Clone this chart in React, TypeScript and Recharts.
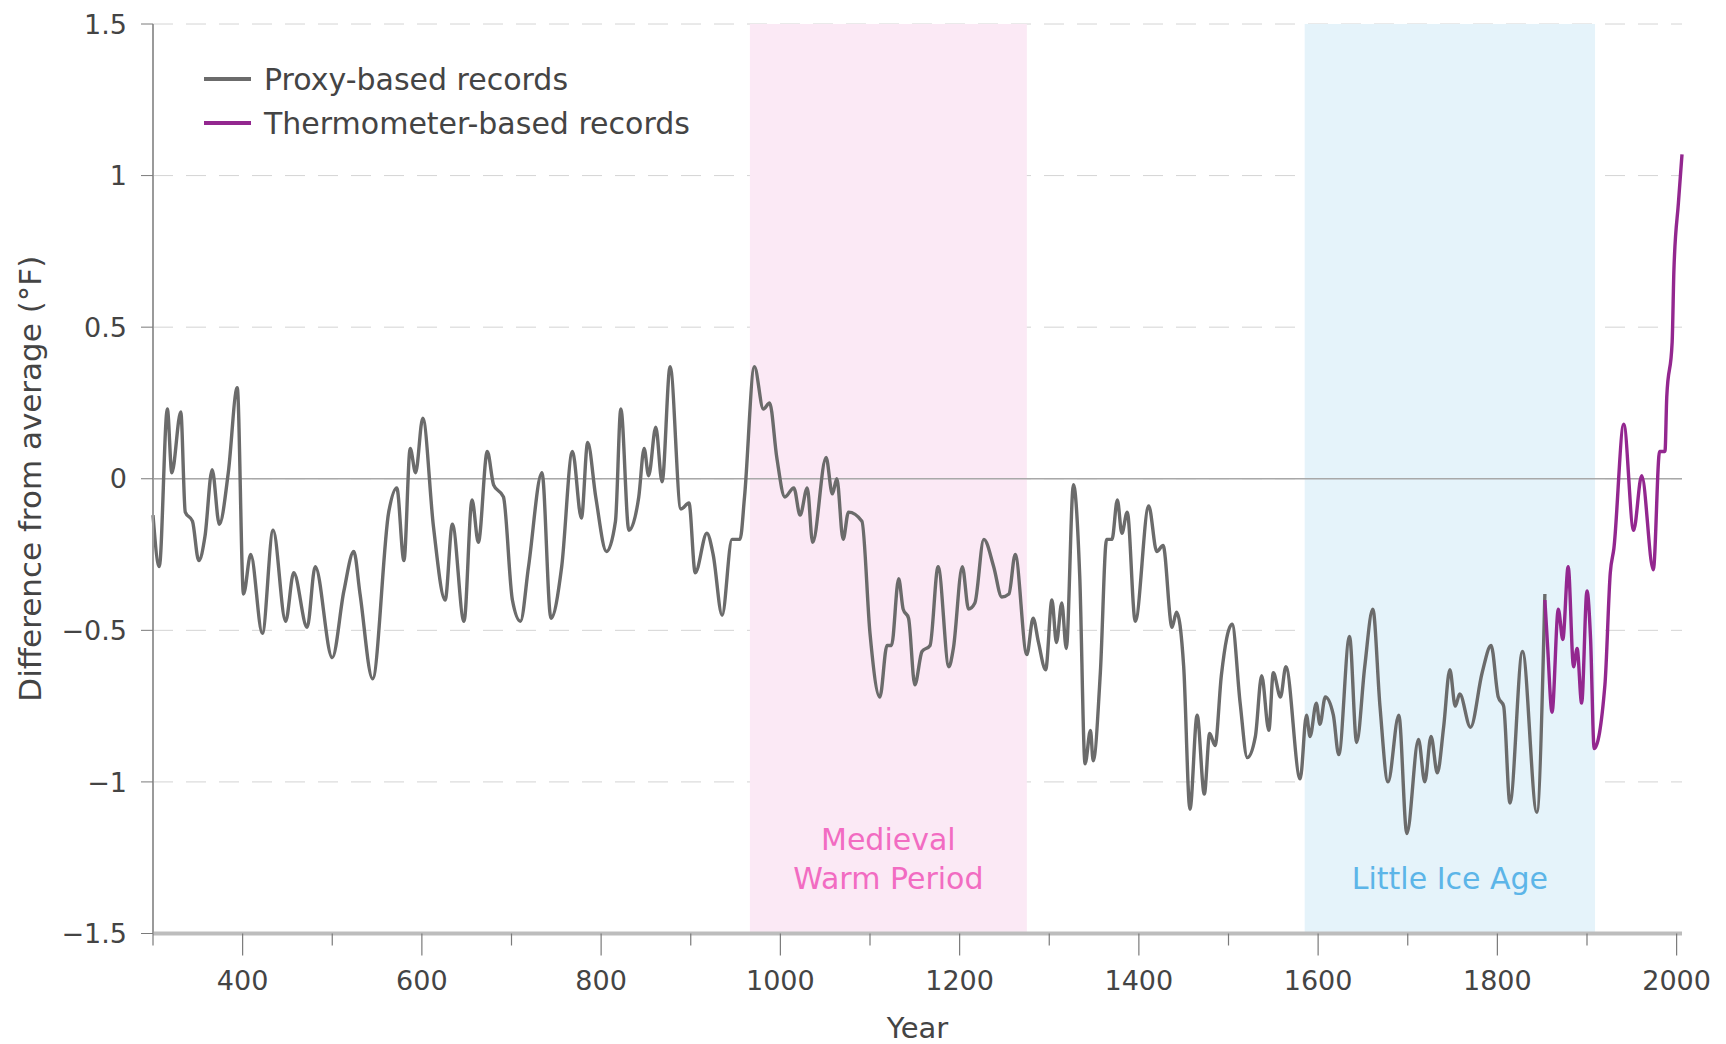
import {
  CartesianGrid,
  Line,
  LineChart,
  ReferenceArea,
  ReferenceLine,
  XAxis,
  YAxis,
} from 'recharts';

// proxy reconstruction
const proxyYears = [
  300, 307, 316, 321, 331, 336, 344, 351, 358, 366, 374, 384, 394, 401, 409, 422, 434, 448, 457, 472,
  481, 500, 513, 524, 531, 545, 563, 572, 580, 587, 593, 601, 613, 626, 634, 647, 656, 663, 673, 680,
  691, 701, 710, 719, 734, 744, 756, 768, 778, 785, 794, 806, 816, 822, 831, 842, 848, 853, 861, 868,
  877, 889, 898, 905, 918, 925, 935, 946, 955, 960, 971, 981, 988, 996, 1005, 1015, 1022, 1030, 1036,
  1051, 1058, 1063, 1070, 1076, 1091, 1100, 1111, 1119, 1124, 1132, 1137, 1143, 1150, 1158, 1167, 1176,
  1188, 1193, 1203, 1210, 1217, 1227, 1238, 1247, 1255, 1262, 1275, 1282, 1288, 1296, 1303, 1308, 1314,
  1319, 1327, 1334, 1340, 1346, 1349, 1357, 1364, 1370, 1376, 1381, 1387, 1396, 1411, 1420, 1427, 1437,
  1442, 1450, 1457, 1465, 1473, 1479, 1485, 1492, 1504, 1513, 1521, 1530, 1537, 1545, 1550, 1558, 1564,
  1580, 1587, 1591, 1598, 1602, 1608, 1617, 1623, 1635, 1643, 1652, 1661, 1669, 1678, 1690, 1699, 1712,
  1719, 1726, 1733, 1740, 1747, 1753, 1758, 1770, 1783, 1793, 1801, 1807, 1814, 1828, 1844, 1853,
];
const proxyValues = [
  -0.12, -0.29, 0.23, 0.02, 0.22, -0.11, -0.14, -0.27, -0.19, 0.03, -0.15, 0.02, 0.3, -0.38, -0.25, -0.51, -0.17, -0.47, -0.31, -0.49,
  -0.29, -0.59, -0.37, -0.24, -0.38, -0.66, -0.11, -0.03, -0.27, 0.1, 0.02, 0.2, -0.16, -0.4, -0.15, -0.47, -0.07, -0.21, 0.09, -0.02,
  -0.06, -0.4, -0.47, -0.29, 0.02, -0.46, -0.29, 0.09, -0.13, 0.12, -0.06, -0.24, -0.14, 0.23, -0.17, -0.06, 0.1, 0.01, 0.17, -0.01,
  0.37, -0.1, -0.08, -0.31, -0.18, -0.25, -0.45, -0.2, -0.2, -0.06, 0.37, 0.23, 0.25, 0.07, -0.06, -0.03, -0.12, -0.03, -0.21,
  0.07, -0.05, 0.0, -0.2, -0.11, -0.14, -0.51, -0.72, -0.55, -0.55, -0.33, -0.43, -0.46, -0.68, -0.57, -0.55, -0.29,
  -0.62, -0.56, -0.29, -0.43, -0.41, -0.2, -0.29, -0.39, -0.38, -0.25, -0.58, -0.46, -0.54, -0.63, -0.4, -0.54, -0.41,
  -0.56, -0.02, -0.32, -0.94, -0.83, -0.93, -0.64, -0.2, -0.2, -0.07, -0.18, -0.11, -0.47, -0.09, -0.24, -0.22, -0.49,
  -0.44, -0.62, -1.09, -0.78, -1.04, -0.84, -0.88, -0.65, -0.48, -0.74, -0.92, -0.85, -0.65, -0.83, -0.64, -0.72, -0.62,
  -0.99, -0.78, -0.85, -0.74, -0.81, -0.72, -0.78, -0.91, -0.52, -0.87, -0.62, -0.43, -0.75, -1.0, -0.78, -1.17, -0.86,
  -1.0, -0.85, -0.97, -0.82, -0.63, -0.75, -0.71, -0.82, -0.64, -0.55, -0.72, -0.75, -1.07, -0.57, -1.1, -0.38,
];

// instrumental record
const thermoYears = [
  1853, 1856, 1861, 1868, 1873, 1879, 1885, 1889, 1894, 1900, 1904, 1908, 1920, 1926, 1930, 1941, 1952,
  1961, 1974, 1981, 1987, 1989, 1995, 1997, 2002, 2006,
];
const thermoValues = [
  -0.4, -0.55, -0.77, -0.43, -0.53, -0.29, -0.62, -0.56, -0.74, -0.37, -0.53, -0.89, -0.68, -0.31, -0.23, 0.18, -0.17,
  0.01, -0.3, 0.09, 0.09, 0.27, 0.45, 0.69, 0.91, 1.07,
];

const xTicks = [300, 400, 500, 600, 700, 800, 900, 1000, 1100, 1200, 1300, 1400, 1500, 1600, 1700, 1800, 1900, 2000];
const yTicks = [-1.5, -1, -0.5, 0, 0.5, 1, 1.5];

const medievalYears = [966, 1275];
const iceAgeYears = [1585, 1909];

const rows = new Map<number, { year: number; proxy?: number; thermo?: number }>();
proxyYears.forEach((y, i) => rows.set(y, { ...(rows.get(y) || { year: y }), proxy: proxyValues[i] }));
thermoYears.forEach((y, i) => rows.set(y, { ...(rows.get(y) || { year: y }), thermo: thermoValues[i] }));
const data = [...rows.values()].sort((a, b) => a.year - b.year);

const FONT = '"DejaVu Sans", Verdana, sans-serif';
const GRAY = '#6b6b6b';
const PURPLE = '#93278f';

function XTick({ x, y, payload }: any) {
  const major = payload.value % 200 === 0;
  return (
    <g>
      <line x1={x} x2={x} y1={y} y2={y + (major ? 22 : 12)} stroke="#7a7a7a" strokeWidth={1.2} />
      {major && (
        <text x={x} y={y + 47} textAnchor="middle" dominantBaseline="central" fontSize={27} fontFamily={FONT} fill="#444">
          {payload.value}
        </text>
      )}
    </g>
  );
}

const fmtY = (v: number) => (v < 0 ? '\u2212' + String(Math.abs(v)) : String(v));

function PeriodLabel({ viewBox, lines, color }: any) {
  const cx = viewBox.x + viewBox.width / 2;
  const bottom = viewBox.y + viewBox.height;
  return (
    <g>
      {lines.map((t: string, i: number) => (
        <text
          key={t}
          x={cx}
          y={bottom - 55 - (lines.length - 1 - i) * 39}
          textAnchor="middle"
          dominantBaseline="central"
          fontSize={30}
          fontFamily={FONT}
          fill={color}
        >
          {t}
        </text>
      ))}
    </g>
  );
}

const legendItems = [
  { name: 'Proxy-based records', color: GRAY },
  { name: 'Thermometer-based records', color: PURPLE },
];

export default function App() {
  return (
    <div style={{ position: 'absolute', left: 0, top: 0, width: 1726, height: 1044, background: '#fff' }}>
      <LineChart width={1726} height={1044} data={data} margin={{ top: 24, right: 44, left: 0, bottom: 0 }}>
        <ReferenceArea x1={medievalYears[0]} x2={medievalYears[1]} y1={-1.5} y2={1.5} fill="#fbe9f5" fillOpacity={1} stroke="none"
          label={<PeriodLabel lines={['Medieval', 'Warm Period']} color="#f26cc2" />} />
        <ReferenceArea x1={iceAgeYears[0]} x2={iceAgeYears[1]} y1={-1.5} y2={1.5} fill="#e5f3fa" fillOpacity={1} stroke="none"
          label={<PeriodLabel lines={['Little Ice Age']} color="#5cb5e8" />} />
        <CartesianGrid vertical={false} stroke="#d4d4d4" strokeDasharray="20 13" />
        <ReferenceLine y={0} stroke="#a8a8a8" strokeWidth={1.5} segment={[{ x: 300, y: 0 }, { x: 2000, y: 0 }]} />
        <XAxis
          dataKey="year"
          type="number"
          domain={[300, 2006]}
          ticks={xTicks}
          interval={0}
          height={110.5}
          tickSize={0}
          tickMargin={0}
          tick={<XTick />}
          axisLine={{ stroke: '#bdbdbd', strokeWidth: 4 }}
          label={{ value: 'Year', position: 'insideBottom', offset: 6, fontSize: 29, fontFamily: FONT, fill: '#444' }}
        />
        <YAxis
          type="number"
          domain={[-1.5, 1.5]}
          ticks={yTicks}
          interval={0}
          width={153}
          tickSize={12}
          tickMargin={14}
          tickFormatter={fmtY}
          tick={{ fontSize: 27, fontFamily: FONT, fill: '#444' }}
          tickLine={{ stroke: '#7a7a7a' }}
          axisLine={{ stroke: '#9a9a9a', strokeWidth: 2 }}
          label={{
            value: 'Difference from average (\u00b0F)',
            angle: -90,
            position: 'insideLeft',
            offset: 30,
            style: { textAnchor: 'middle' },
            fontSize: 31,
            fontFamily: FONT,
            fill: '#444',
          }}
        />
        <Line type="monotone" dataKey="proxy" stroke={GRAY} strokeWidth={3.4} dot={false} connectNulls isAnimationActive={false} />
        <Line type="monotone" dataKey="thermo" stroke={PURPLE} strokeWidth={3.4} dot={false} connectNulls isAnimationActive={false} />
      </LineChart>
      <div style={{ position: 'absolute', left: 204, top: 57, fontFamily: FONT, fontSize: 30, color: '#444' }}>
        {legendItems.map((it) => (
          <div key={it.name} style={{ display: 'flex', alignItems: 'center', height: 44, whiteSpace: 'nowrap' }}>
            <span style={{ width: 47, height: 4, background: it.color, marginRight: 13 }} />
            {it.name}
          </div>
        ))}
      </div>
    </div>
  );
}
